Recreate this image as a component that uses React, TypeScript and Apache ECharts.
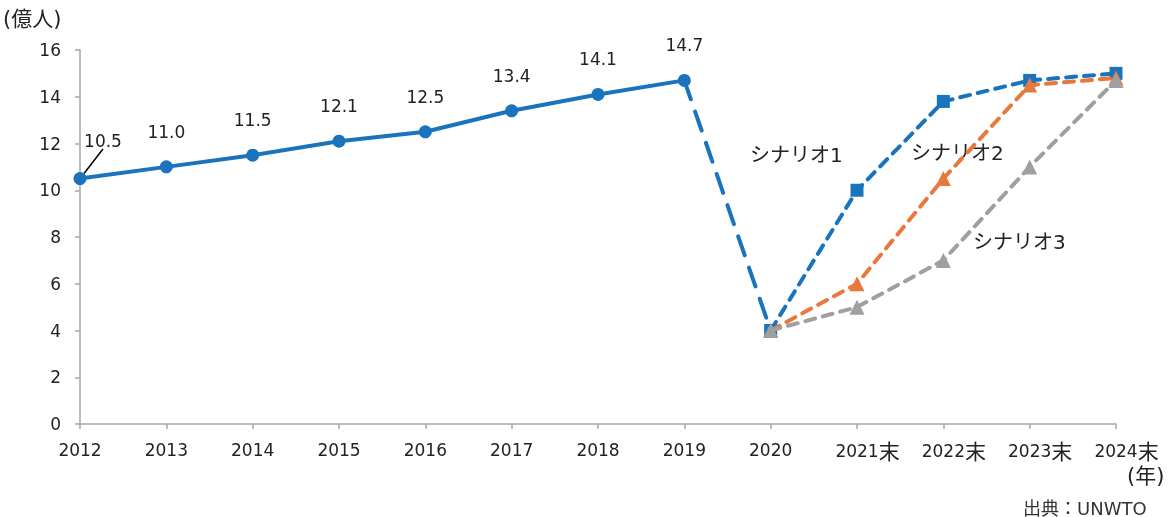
import React, { useEffect, useRef } from "react";
import * as echarts from "echarts";

const categories = ["2012", "2013", "2014", "2015", "2016", "2017", "2018", "2019", "2020", "2021末", "2022末", "2023末", "2024末"];
const actual = [10.5, 11.0, 11.5, 12.1, 12.5, 13.4, 14.1, 14.7, null, null, null, null, null];
const drop = [null, null, null, null, null, null, null, 14.7, 4.0, null, null, null, null];
const scenario1 = [null, null, null, null, null, null, null, null, 4.0, 10.0, 13.8, 14.7, 15.0];
const scenario2 = [null, null, null, null, null, null, null, null, 4.0, 6.0, 10.5, 14.5, 14.8];
const scenario3 = [null, null, null, null, null, null, null, null, 4.0, 5.0, 7.0, 11.0, 14.7];
const yTicks = [0, 2, 4, 6, 8, 10, 12, 14, 16];
const scenarioNames = ["シナリオ1", "シナリオ2", "シナリオ3"];

const FONT = "'DejaVu Sans', 'Noto Sans CJK JP', sans-serif";
const BLUE = "#1a74bd";
const ORANGE = "#e8793d";
const GRAY = "#9f9fa1";
const AXIS = "#a6a6a6";
const TEXT = "#222222";

export default function App() {
  const ref = useRef<HTMLDivElement>(null);
  useEffect(() => {
    if (!ref.current) return;
    const chart = echarts.init(ref.current, null, { renderer: "svg" });
    const dashed = (color: string, symbol: string, size: number, data: (number | null)[], z: number) => ({
      type: "line",
      data,
      z,
      connectNulls: false,
      symbol,
      symbolSize: size,
      showAllSymbol: true,
      itemStyle: { color },
      lineStyle: { color, width: 4, type: [10, 8], cap: "round" },
    });
    chart.setOption({
      animation: false,
      textStyle: { fontFamily: FONT },
      grid: { left: 80, right: 60, top: 50, bottom: 93, containLabel: false },
      xAxis: {
        type: "category",
        data: categories,
        boundaryGap: false,
        axisLine: { lineStyle: { color: AXIS, width: 1.5 } },
        axisTick: { show: true, length: 5, alignWithLabel: true, lineStyle: { color: AXIS, width: 1.5 } },
        axisLabel: {
          color: TEXT,
          fontSize: 17,
          margin: 17,
          fontFamily: FONT,
          interval: 0,
          formatter: (v: string) => (v.endsWith("末") ? `{sp| }${v.slice(0, -1)}{k|末}` : v),
          rich: {
            k: { fontSize: 21, color: TEXT, fontFamily: FONT },
            sp: { width: 21, fontSize: 17 },
          },
        },
      },
      yAxis: {
        type: "value",
        min: 0,
        max: 16,
        interval: 2,
        splitLine: { show: false },
        axisLine: { show: true, lineStyle: { color: AXIS, width: 1.5 } },
        axisTick: { show: true, length: 5, lineStyle: { color: AXIS, width: 1.5 } },
        axisLabel: {
          color: TEXT,
          fontSize: 17,
          margin: 19,
          fontFamily: FONT,
          formatter: (v: number) => (yTicks.includes(v) ? String(v) : ""),
        },
      },
      series: [
        {
          type: "line",
          data: drop,
          z: 2,
          symbol: "none",
          lineStyle: { color: BLUE, width: 4, type: [20, 13], cap: "round" },
          itemStyle: { color: BLUE },
        },
        dashed(BLUE, "rect", 13, scenario1, 3),
        dashed(ORANGE, "triangle", 15, scenario2, 4),
        dashed(GRAY, "triangle", 15, scenario3, 5),
        {
          type: "line",
          data: actual.map((v, i) => (i === 0 ? { value: v, labelLine: { show: true } } : v)),
          z: 6,
          symbol: "circle",
          symbolSize: 13,
          itemStyle: { color: BLUE },
          lineStyle: { color: BLUE, width: 4 },
          label: {
            show: true,
            position: "top",
            distance: 20,
            color: TEXT,
            fontSize: 17,
            fontFamily: FONT,
            formatter: (p: any) => Number(p.value).toFixed(1),
          },
          labelLine: { show: false, lineStyle: { color: "#000", width: 1.5 } },
          labelLayout: (p: any) => (p.dataIndex === 0 ? { dx: 23, dy: -3 } : {}),
        },
      ],
      graphic: [
        { type: "text", left: 3, top: 8, style: { text: "(億人)", font: `21px ${FONT}`, fill: TEXT } },
        { type: "text", left: 1127, top: 465, style: { text: "(年)", font: `21px ${FONT}`, fill: TEXT } },
        { type: "text", left: 1023, top: 499, style: { text: "出典：UNWTO", font: `18px ${FONT}`, fill: "#333" } },
        { type: "text", left: 750, top: 145, style: { text: scenarioNames[0], font: `20px ${FONT}`, fill: TEXT } },
        { type: "text", left: 911, top: 143, style: { text: scenarioNames[1], font: `20px ${FONT}`, fill: TEXT } },
        { type: "text", left: 973, top: 232, style: { text: scenarioNames[2], font: `20px ${FONT}`, fill: TEXT } },
      ],
    });
    return () => chart.dispose();
  }, []);
  return <div ref={ref} style={{ position: "fixed", left: 0, top: 0, width: 1176, height: 517 }} />;
}
